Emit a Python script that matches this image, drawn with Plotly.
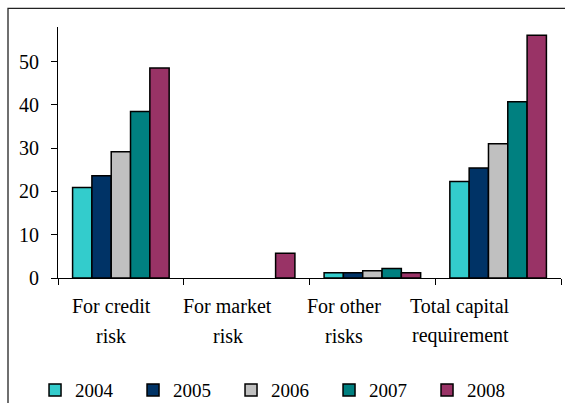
import plotly.graph_objects as go

# Capital requirements by risk type and year (None = no requirement reported)
categories = ["credit", "market", "other", "total"]
label_line1 = ["For credit", "For market", "For other", "Total capital"]
label_line2 = ["risk", "risk", "risks", "requirement"]
years = ["2004", "2005", "2006", "2007", "2008"]
values = {
    "2004": [20.9, None, 1.2, 22.3],
    "2005": [23.6, None, 1.2, 25.4],
    "2006": [29.2, None, 1.7, 31.0],
    "2007": [38.5, None, 2.2, 40.7],
    "2008": [48.5, 5.7, 1.2, 56.1],
}
colors = ["#33CCCC", "#003366", "#C0C0C0", "#008080", "#993366"]
y_ticks = [0, 10, 20, 30, 40, 50]

SERIF = "Liberation Serif"

fig = go.Figure()
for year, color in zip(years, colors):
    fig.add_trace(go.Bar(
        x=categories,
        y=values[year],
        name=year,
        marker=dict(color=color, line=dict(color="black", width=1.5)),
    ))

# Two-line category labels drawn below the axis
for i, cat in enumerate(categories):
    shift = -9.5 * (i + 1)
    for text, ypos in ((label_line1[i], -0.112), (label_line2[i], -0.230)):
        fig.add_annotation(
            x=cat, xref="x", y=ypos, yref="paper",
            text=text, showarrow=False, xshift=shift,
            xanchor="center", yanchor="middle",
            font=dict(family=SERIF, size=20, color="black"),
        )

fig.update_layout(
    width=565, height=403,
    font=dict(family=SERIF, size=20, color="black"),
    margin=dict(l=58, r=4, t=27, b=125, autoexpand=False),
    paper_bgcolor="white", plot_bgcolor="white",
    barmode="group", bargap=0.232, bargroupgap=0,
    showlegend=True,
    legend=dict(
        orientation="h", xref="container", x=0.062, xanchor="left",
        yref="container", y=0.032, yanchor="middle",
        font=dict(family=SERIF, size=19, color="black"),
        entrywidth=53, entrywidthmode="pixels",
        bgcolor="rgba(0,0,0,0)", traceorder="normal",
    ),
)
fig.add_shape(
    type="rect", xref="paper", yref="paper",
    x0=-0.0994, x1=1.03, y0=-0.55, y1=1.0744,
    line=dict(color="#222222", width=1.3), fillcolor="rgba(0,0,0,0)",
    layer="below",
)
fig.update_xaxes(
    showticklabels=False, showline=True, linecolor="black", linewidth=1,
    ticks="outside", tickson="boundaries", ticklen=6, tickcolor="black",
    showgrid=False, zeroline=False,
)
fig.update_yaxes(
    range=[0, 58], tickvals=y_ticks, showline=True, linecolor="black",
    linewidth=1, ticks="outside", ticklen=6, tickcolor="black",
    showgrid=False, zeroline=False, ticklabelstandoff=8,
    tickfont=dict(family=SERIF, size=20, color="black"),
)

fig.write_html("out.html")
